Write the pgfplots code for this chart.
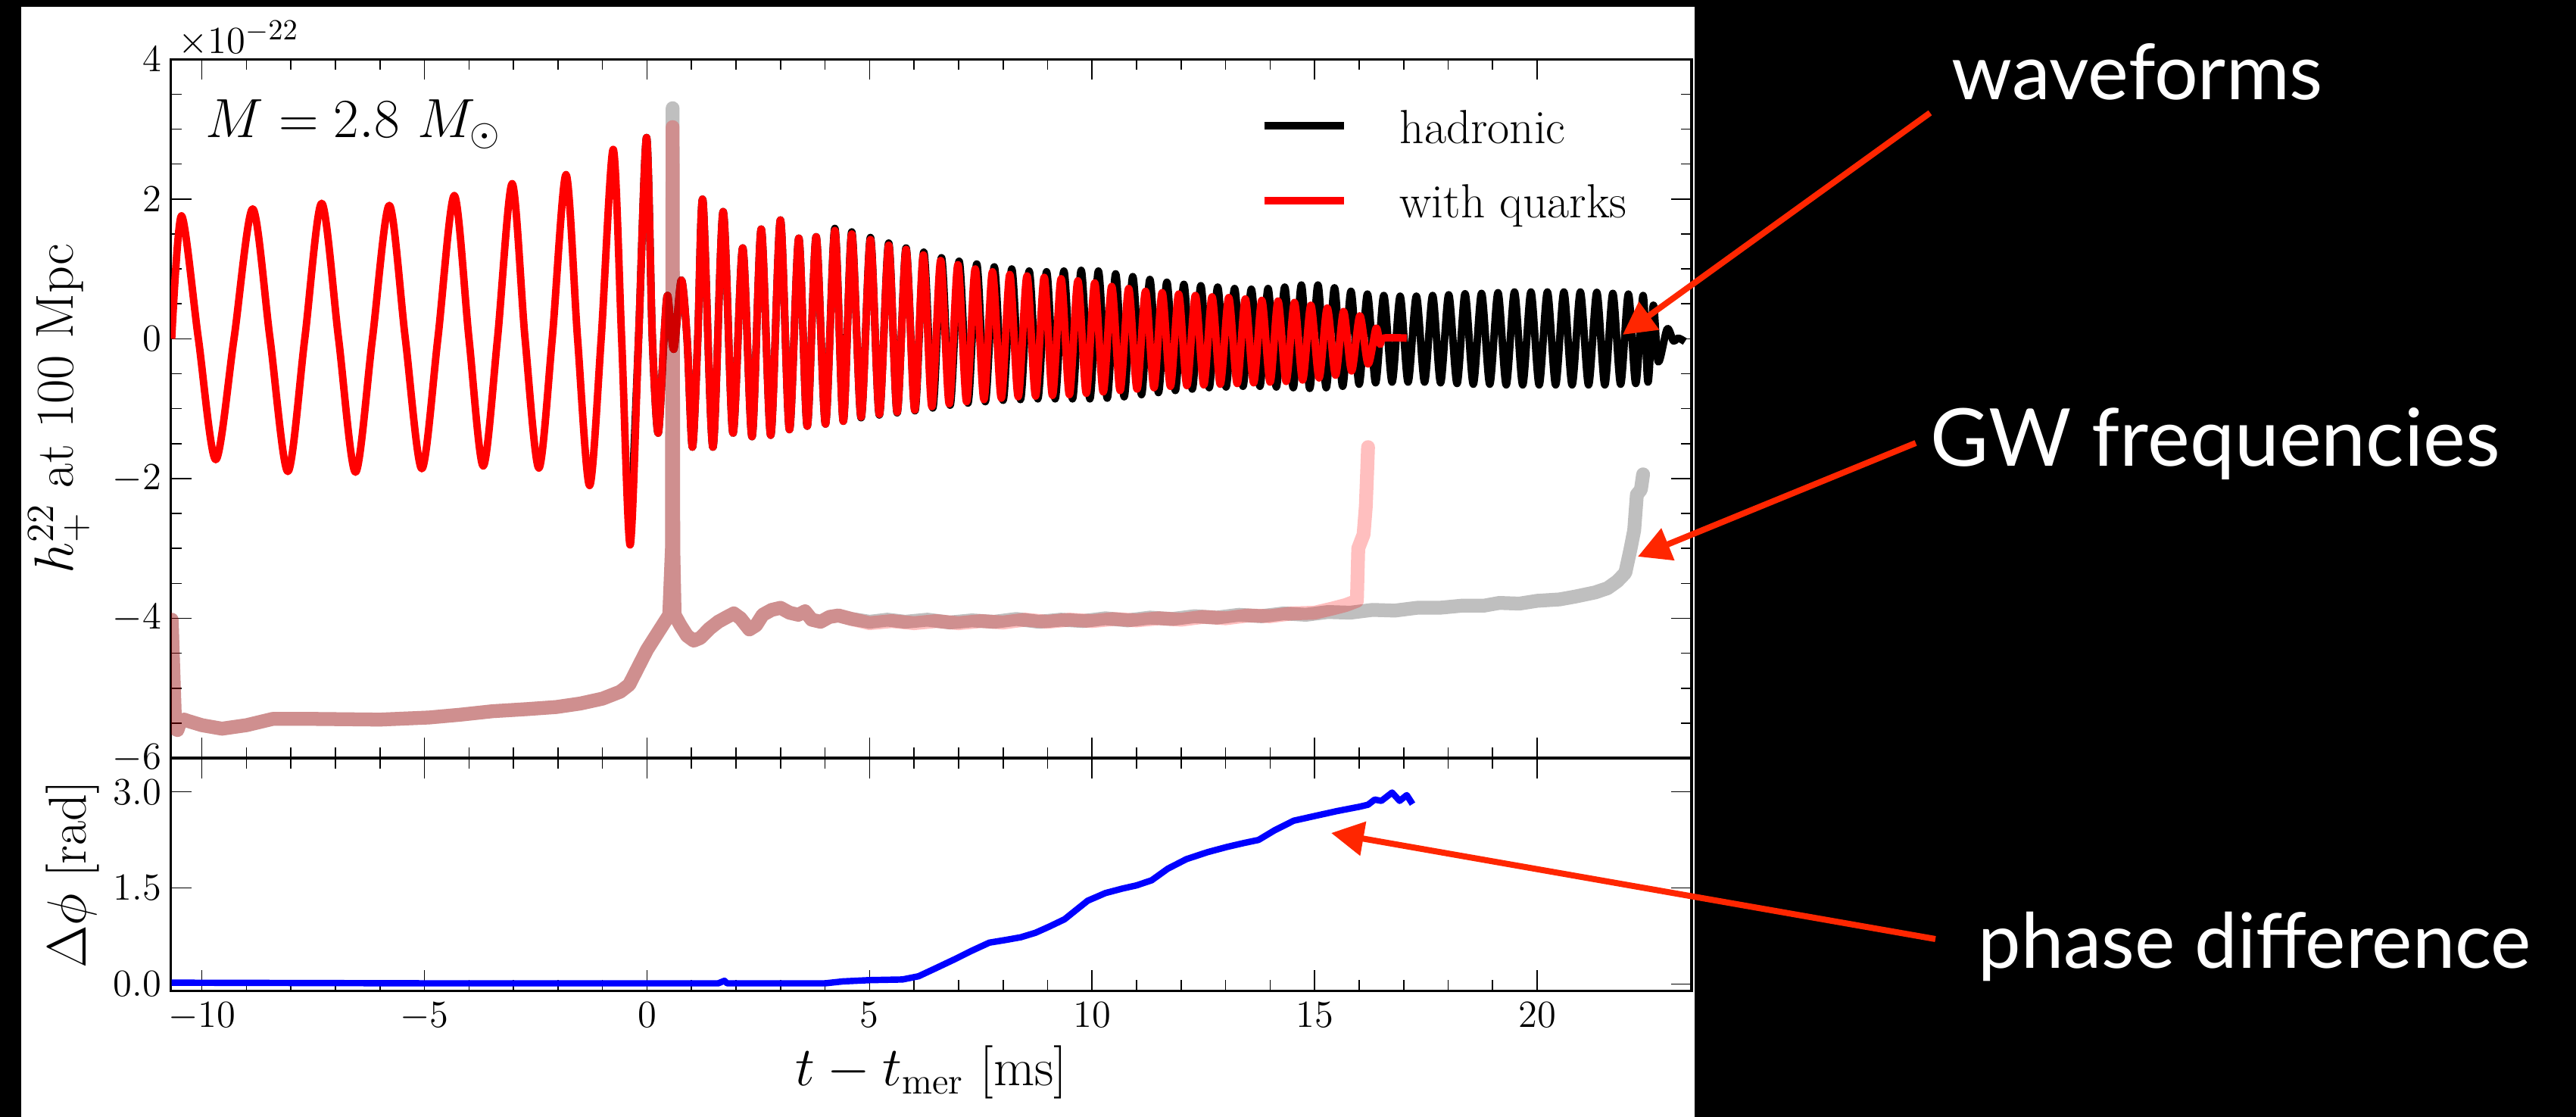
\documentclass[border=0pt]{standalone}
\usepackage{fontspec}
\usepackage{pgfplots}
\pgfplotsset{compat=1.18}
\usetikzlibrary{arrows.meta}
\newfontfamily\annfont{Lato}
\definecolor{arrowred}{RGB}{255,38,0}

\pgfplotstableread{
t h
-10.68 0.00
-10.46 1.76
-10.08 0.00
-9.69 -1.73
-9.28 0.00
-8.86 1.86
-8.47 0.00
-8.07 -1.90
-7.69 0.00
-7.31 1.94
-6.93 0.00
-6.55 -1.91
-6.17 0.00
-5.79 1.91
-5.43 0.00
-5.06 -1.86
-4.70 0.00
-4.33 2.05
-4.00 0.00
-3.68 -1.82
-3.36 0.00
-3.03 2.22
-2.74 0.00
-2.43 -1.85
-2.13 0.00
-1.82 2.35
-1.56 0.00
-1.29 -2.10
-1.03 0.00
-0.76 2.71
-0.57 0.00
-0.38 -2.95
-0.19 0.00
-0.01 2.88
0.12 0.00
0.25 -1.35
0.38 0.00
0.463 0.62
0.60 -0.15
0.77 0.84
0.90 0.00
1.02 -1.55
1.14 0.00
1.256 1.98
1.48 -1.55
1.71 1.82
1.93 -1.35
2.15 1.30
2.36 -1.40
2.566 1.57
2.78 -1.38
2.997 1.70
3.20 -1.30
3.41 1.44
3.60 -1.25
3.80 1.46
4.01 -1.22
4.22 1.55
4.41 -1.18
4.60 1.50
4.81 -1.12
5.02 1.42
5.22 -1.08
5.43 1.34
5.62 -1.05
5.82 1.28
6.015 -1.02
6.209 1.20
6.40 -0.97
6.598 1.12
6.79 -0.93
6.985 1.06
7.18 -0.90
7.374 1.00
7.57 -0.87
7.762 0.96
7.96 -0.85
8.151 0.92
8.34 -0.83
8.538 0.90
8.73 -0.82
8.924 0.88
9.11 -0.81
9.304 0.86
9.49 -0.80
9.681 0.83
9.87 -0.78
10.059 0.80
10.25 -0.76
10.441 0.75
10.63 -0.74
10.822 0.72
11.01 -0.72
11.201 0.68
11.39 -0.70
11.574 0.66
11.76 -0.68
11.945 0.64
12.13 -0.67
12.321 0.62
12.51 -0.66
12.695 0.60
12.88 -0.65
13.07 0.59
13.26 -0.64
13.443 0.57
13.63 -0.63
13.813 0.55
14.00 -0.62
14.178 0.54
14.36 -0.61
14.546 0.52
14.73 -0.59
14.915 0.48
15.10 -0.56
15.284 0.44
15.47 -0.52
15.65 0.39
15.83 -0.46
16.016 0.33
16.20 -0.36
16.38 0.15
16.47 -0.08
16.55 0.01
17.07 0.01
}\quarkwave

\pgfplotstableread{
t h
-0.38 -2.95
-0.19 0.00
-0.01 2.88
0.12 0.00
0.25 -1.35
0.38 0.00
0.463 0.62
0.60 -0.15
0.77 0.84
0.90 0.00
1.02 -1.55
1.14 0.00
1.256 1.98
1.48 -1.55
1.71 1.82
1.93 -1.35
2.15 1.30
2.36 -1.40
2.566 1.57
2.78 -1.38
2.997 1.70
3.20 -1.30
3.41 1.44
3.60 -1.25
3.80 1.46
4.01 -1.22
4.22 1.58
4.41 -1.18
4.60 1.53
4.81 -1.13
5.02 1.45
5.22 -1.09
5.43 1.37
5.62 -1.06
5.82 1.30
6.02 -1.03
6.218 1.24
6.42 -0.99
6.616 1.16
6.81 -0.95
7.012 1.11
7.21 -0.92
7.408 1.07
7.60 -0.90
7.802 1.03
8.00 -0.88
8.195 1.00
8.39 -0.87
8.586 0.97
8.78 -0.86
8.977 0.96
9.17 -0.86
9.366 0.97
9.56 -0.86
9.755 0.98
9.95 -0.86
10.142 0.97
10.34 -0.85
10.529 0.93
10.72 -0.83
10.914 0.89
11.11 -0.80
11.298 0.85
11.49 -0.77
11.68 0.81
11.87 -0.74
12.062 0.78
12.25 -0.72
12.443 0.76
12.63 -0.70
12.822 0.74
13.01 -0.69
13.201 0.72
13.39 -0.68
13.578 0.71
13.77 -0.68
13.954 0.72
14.14 -0.69
14.328 0.74
14.52 -0.70
14.702 0.77
14.89 -0.71
15.074 0.77
15.26 -0.70
15.446 0.73
15.63 -0.68
15.816 0.68
16.00 -0.65
16.186 0.64
16.37 -0.63
16.554 0.62
16.74 -0.62
16.921 0.61
17.10 -0.62
17.286 0.61
17.47 -0.62
17.651 0.62
17.83 -0.63
18.013 0.63
18.20 -0.64
18.38 0.645
18.565 -0.65
18.75 0.65
18.935 -0.65
19.12 0.66
19.305 -0.66
19.49 0.67
19.675 -0.66
19.86 0.67
20.045 -0.66
20.23 0.67
20.415 -0.66
20.60 0.67
20.785 -0.66
20.97 0.67
21.155 -0.66
21.34 0.665
21.52 -0.66
21.70 0.65
21.875 -0.65
22.05 0.64
22.215 -0.64
22.38 0.62
22.49 -0.62
22.61 0.48
22.72 -0.33
22.92 0.14
23.06 -0.03
23.17 0.01
23.32 -0.04
}\hadwave

\pgfplotstableread{
t f
-10.68 -4.02
-10.63 -5.00
-10.60 -5.58
-10.55 -5.60
-10.48 -5.47
-10.40 -5.45
-10.31 -5.47
-10.00 -5.53
-9.55 -5.58
-9.00 -5.53
-8.41 -5.44
-7.50 -5.44
-6.00 -5.45
-4.90 -5.42
-4.20 -5.38
-3.47 -5.33
-2.70 -5.30
-2.04 -5.27
-1.50 -5.22
-1.00 -5.15
-0.60 -5.05
-0.40 -4.95
-0.20 -4.70
0.00 -4.45
0.20 -4.25
0.40 -4.05
0.50 -3.95
0.56 -3.00
0.575 3.30
0.59 -3.00
0.62 -3.95
0.75 -4.10
0.90 -4.25
1.05 -4.32
1.20 -4.28
1.40 -4.15
1.60 -4.05
1.80 -3.98
1.95 -3.93
2.10 -4.00
2.30 -4.16
2.45 -4.10
2.60 -3.95
2.80 -3.88
3.00 -3.85
3.20 -3.92
3.40 -3.95
3.55 -3.90
3.70 -4.02
3.90 -4.05
4.10 -3.98
4.30 -3.96
4.60 -4.01
5.00 -4.05
5.40 -4.02
5.80 -4.05
6.30 -4.02
6.80 -4.06
7.30 -4.03
7.80 -4.05
8.30 -4.01
8.80 -4.05
9.30 -4.02
9.80 -4.04
10.30 -4.00
10.80 -4.03
11.30 -3.99
11.80 -4.01
12.30 -3.97
12.80 -3.99
13.30 -3.95
13.80 -3.97
14.30 -3.93
14.80 -3.95
15.30 -3.91
15.80 -3.92
16.30 -3.88
16.80 -3.89
17.30 -3.85
17.80 -3.85
18.30 -3.82
18.80 -3.82
19.15 -3.78
19.60 -3.79
20.00 -3.75
20.50 -3.73
20.85 -3.69
21.30 -3.63
21.58 -3.57
21.80 -3.47
21.98 -3.35
22.09 -3.03
22.18 -2.74
22.24 -2.23
22.33 -2.16
22.38 -1.94
}\hadfreq

\pgfplotstableread{
t f
-10.68 -4.02
-10.63 -5.00
-10.60 -5.58
-10.55 -5.60
-10.48 -5.47
-10.40 -5.45
-10.31 -5.47
-10.00 -5.53
-9.55 -5.58
-9.00 -5.53
-8.41 -5.44
-7.50 -5.44
-6.00 -5.45
-4.90 -5.42
-4.20 -5.38
-3.47 -5.33
-2.70 -5.30
-2.04 -5.27
-1.50 -5.22
-1.00 -5.15
-0.60 -5.05
-0.40 -4.95
-0.20 -4.70
0.00 -4.45
0.20 -4.25
0.40 -4.05
0.50 -3.95
0.56 -3.00
0.575 3.03
0.59 -3.00
0.62 -3.95
0.75 -4.10
0.90 -4.25
1.05 -4.32
1.20 -4.28
1.40 -4.15
1.60 -4.05
1.80 -3.98
1.95 -3.93
2.10 -4.00
2.30 -4.16
2.45 -4.10
2.60 -3.95
2.80 -3.88
3.00 -3.85
3.20 -3.92
3.40 -3.95
3.55 -3.90
3.70 -4.02
3.90 -4.05
4.10 -3.98
4.30 -3.96
4.60 -4.01
5.00 -4.07
5.50 -4.04
6.00 -4.07
6.50 -4.04
7.00 -4.07
7.50 -4.04
8.00 -4.06
8.50 -4.02
9.00 -4.05
9.50 -4.02
10.00 -4.04
10.50 -4.01
11.00 -4.03
11.50 -4.00
12.00 -4.02
12.50 -3.98
13.00 -4.00
13.50 -3.96
14.00 -3.97
14.50 -3.93
15.00 -3.92
15.40 -3.86
15.70 -3.81
15.95 -3.75
15.98 -3.00
16.10 -2.80
16.15 -2.40
16.18 -1.90
16.20 -1.55
}\quarkfreq

\pgfplotstableread{
t p
-10.68 0.02
-5.00 0.01
1.60 0.01
1.74 0.05
1.80 0.01
4.00 0.01
4.40 0.04
5.00 0.06
5.74 0.07
6.10 0.12
6.50 0.25
6.91 0.385
7.30 0.52
7.69 0.645
8.08 0.69
8.40 0.73
8.73 0.80
9.05 0.90
9.38 1.01
9.90 1.30
10.30 1.42
10.68 1.49
11.00 1.54
11.34 1.62
11.70 1.80
12.12 1.95
12.60 2.06
13.03 2.14
13.40 2.20
13.74 2.25
14.10 2.40
14.53 2.55
14.98 2.62
15.50 2.70
16.02 2.77
16.20 2.80
16.35 2.88
16.50 2.86
16.74 2.99
16.91 2.86
17.07 2.95
17.20 2.81
}\phasediff

\pgfplotsset{
  common/.style={
    scale only axis, width=20.083cm,
    xmin=-10.6975, xmax=23.47,
    xtick={-10,-5,...,20}, minor x tick num=4,
    tick align=inside,
    major tick length=0.27cm, minor tick length=0.14cm,
    every tick/.style={black, line width=0.45pt},
    axis line style={line width=1pt},
    tick label style={font=\fontsize{15.5}{17}\selectfont},
    yticklabel style={inner xsep=0pt, xshift=-0.12cm},
    xticklabel style={inner ysep=0pt, yshift=-0.15cm},
    label style={font=\fontsize{20}{24}\selectfont},
    clip mode=individual,
  }
}

\begin{document}
\begin{tikzpicture}
\fill[black] (0,0) rectangle (34.02,14.75);
\fill[white] (0.28,0) rectangle (22.38,14.66);

\begin{axis}[common,
  at={(2.257cm,4.74cm)}, anchor=south west, height=9.227cm,
  ymin=-6, ymax=4, ytick={-6,-4,...,4}, minor y tick num=3,
  xticklabels={},
  ylabel={$h_+^{22}$ at 100 Mpc},
  ylabel style={at={(axis description cs:-0.0642,0.5)}, anchor=base},
]
\addplot[black, line width=2.8pt, line join=round, smooth] table[x=t,y=h] {\hadwave};
\addplot[red, line width=2.8pt, line join=round, smooth] table[x=t,y=h] {\quarkwave};
\addplot[black, opacity=0.25, line width=5.2pt, line join=round, line cap=round] table[x=t,y=f] {\hadfreq};
\addplot[red, opacity=0.25, line width=5.2pt, line join=round, line cap=round] table[x=t,y=f] {\quarkfreq};

\draw[black, line width=2.8pt] (axis description cs:0.719,0.905) -- (axis description cs:0.7715,0.905);
\draw[red, line width=2.8pt] (axis description cs:0.719,0.798) -- (axis description cs:0.7715,0.798);
\node[anchor=base west, inner sep=0pt, font=\fontsize{18}{20}\selectfont] at (axis description cs:0.8078,0.879) {hadronic};
\node[anchor=base west, inner sep=0pt, font=\fontsize{18}{20}\selectfont] at (axis description cs:0.8078,0.773) {with quarks};
\node[anchor=base west, inner sep=0pt, font=\fontsize{22}{25}\selectfont] at (axis description cs:0.0224,0.888) {$M=2.8\ M_{\odot}$};
\node[anchor=base west, inner sep=0pt, font=\fontsize{15.5}{17}\selectfont] at (axis description cs:0.0046,1.0083) {$\times10^{-22}$};
\end{axis}

\begin{axis}[common,
  at={(2.257cm,1.667cm)}, anchor=south west, height=3.073cm,
  ymin=-0.106, ymax=3.529, ytick={0,1.5,3},
  yticklabel style={/pgf/number format/fixed, /pgf/number format/fixed zerofill, /pgf/number format/precision=1},
  xlabel={$t - t_{\mathrm{mer}}$ [ms]},
  xlabel style={at={(axis description cs:0.5,-0.407)}, anchor=base},
  ylabel={$\Delta\phi$ [rad]},
  ylabel style={at={(axis description cs:-0.056,0.5)}, anchor=base},
]
\addplot[blue, line width=2.4pt, line join=round] table[x=t,y=p] {\phasediff};
\end{axis}

\draw[arrowred, line width=0.08cm, -{Triangle[length=0.43cm,width=0.44cm]}] (25.49,13.26) -- (21.43,10.33);
\draw[arrowred, line width=0.08cm, -{Triangle[length=0.43cm,width=0.44cm]}] (25.30,8.90) -- (21.63,7.40);
\draw[arrowred, line width=0.08cm, -{Triangle[length=0.43cm,width=0.44cm]}] (25.56,2.35) -- (17.58,3.75);

\node[anchor=base west, inner sep=0pt, text=white] at (25.77,13.43) {\resizebox{4.9cm}{!}{\annfont waveforms}};
\node[anchor=base west, inner sep=0pt, text=white] at (25.49,8.59) {\resizebox{7.52cm}{!}{\annfont GW frequencies}};
\node[anchor=base west, inner sep=0pt, text=white] at (26.12,1.96) {\resizebox{7.3cm}{!}{\annfont phase difference}};

\pgfresetboundingbox
\useasboundingbox (0,0) rectangle (34.02,14.75);
\end{tikzpicture}
\end{document}
